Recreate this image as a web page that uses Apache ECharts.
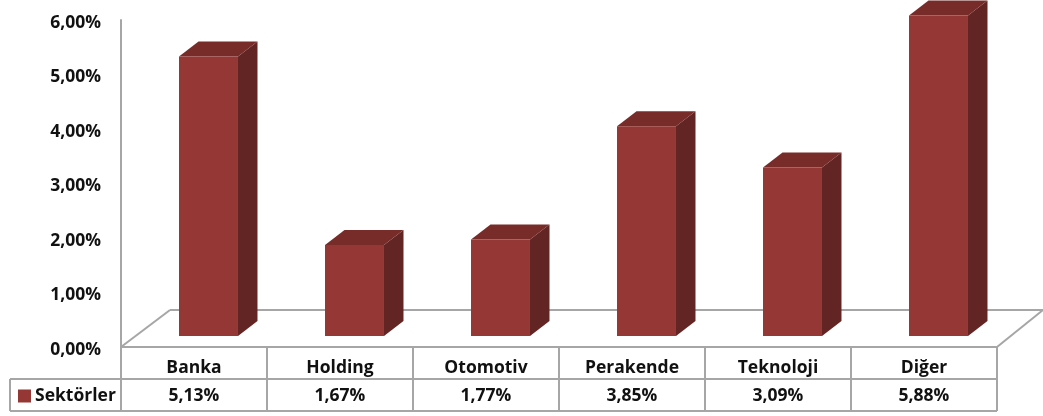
<!DOCTYPE html>
<html><head><meta charset="utf-8">
<style>html,body{margin:0;padding:0;background:#fff}#c{width:1043px;height:416px}</style>
<script src="https://cdn.jsdelivr.net/npm/echarts@6/dist/echarts.min.js"></script>
</head><body><div id="c"></div>
<script>
const categories = ['Banka','Holding','Otomotiv','Perakende','Teknoloji','Diğer'];
const values = [5.13,1.67,1.77,3.85,3.09,5.88];
const yTicks = [0,1,2,3,4,5,6];
const seriesName = 'Sektörler';
const fmt = v => v.toFixed(2).replace('.',',') + '%';
const FONT = '"Open Sans", sans-serif';
const FS = 17.5;
const LINE = '#A6A6A6';
const chart = echarts.init(document.getElementById('c'), null, {renderer:'canvas'});
const line = (x1,y1,x2,y2) => ({type:'line',z:0,silent:true,shape:{x1,y1,x2,y2},style:{stroke:LINE,lineWidth:2}});
const colX = [121,267,413,559,705,851,997];
const graphics = [
  line(121,347,170,310), line(170,310,1043,310), line(1043,310,997,347),
  line(121,347,997,347), line(10,379,997,379), line(10,411,997,411),
  line(10,379,10,411),
  ...colX.map(x => line(x,347,x,411))
];
chart.setOption({
  animation:false,
  backgroundColor:'#fff',
  textStyle:{fontFamily:FONT},
  grid:{left:121,right:46,top:20,bottom:69,containLabel:false},
  legend:{show:true,left:13,top:382,padding:5,itemWidth:13,itemHeight:13,itemGap:0,icon:'rect',
    selectedMode:false,data:[seriesName],
    textStyle:{fontFamily:FONT,fontWeight:'bold',fontSize:FS,color:'#111',padding:[0,0,0,-1]}},
  xAxis:{type:'category',data:categories,
    axisLine:{show:false},axisTick:{show:false},splitLine:{show:false},
    axisLabel:{margin:12,fontFamily:FONT,fontWeight:'bold',fontSize:FS,color:'#111'}},
  yAxis:{type:'value',min:0,max:6,interval:1,
    axisLine:{show:true,lineStyle:{color:LINE,width:2}},
    axisTick:{show:false},splitLine:{show:false},
    axisLabel:{margin:20,fontFamily:FONT,fontWeight:'bold',fontSize:FS,color:'#111',verticalAlign:'top',lineHeight:6,
      formatter:v=>fmt(yTicks[yTicks.indexOf(v)])}},
  graphic:{elements:graphics},
  series:[{
    name:seriesName,type:'custom',coordinateSystem:'cartesian2d',z:3,clip:false,
    itemStyle:{color:'#953735'},
    data:values.map((v,i)=>[i,v]),
    encode:{x:0,y:1},
    renderItem(params,api){
      const i=api.value(0),v=api.value(1);
      const base=api.coord([i,0]),top=api.coord([i,v]);
      const w=api.size([1,0])[0]*0.404,ox=14.5,oy=-11,dx=19.5,dy=-15;
      const x0=base[0]+ox-w/2,x1=x0+w,yb=base[1]+oy,yt=top[1]+oy;
      return {type:'group',children:[
        {type:'polygon',shape:{points:[[x1,yt],[x1+dx,yt+dy],[x1+dx,yb+dy],[x1,yb]]},style:{fill:'#632523'}},
        {type:'polygon',shape:{points:[[x0,yt],[x0+dx,yt+dy],[x1+dx,yt+dy],[x1,yt]]},style:{fill:'#772C2A'}},
        {type:'rect',shape:{x:x0,y:yt,width:w,height:yb-yt},style:{fill:'#953735'}},
        {type:'text',style:{text:fmt(v),x:base[0],y:base[1]+49,align:'center',verticalAlign:'middle',
          fontFamily:FONT,fontWeight:'bold',fontSize:FS,fill:'#111'}}
      ]};
    }
  }]
});
</script></body></html>
